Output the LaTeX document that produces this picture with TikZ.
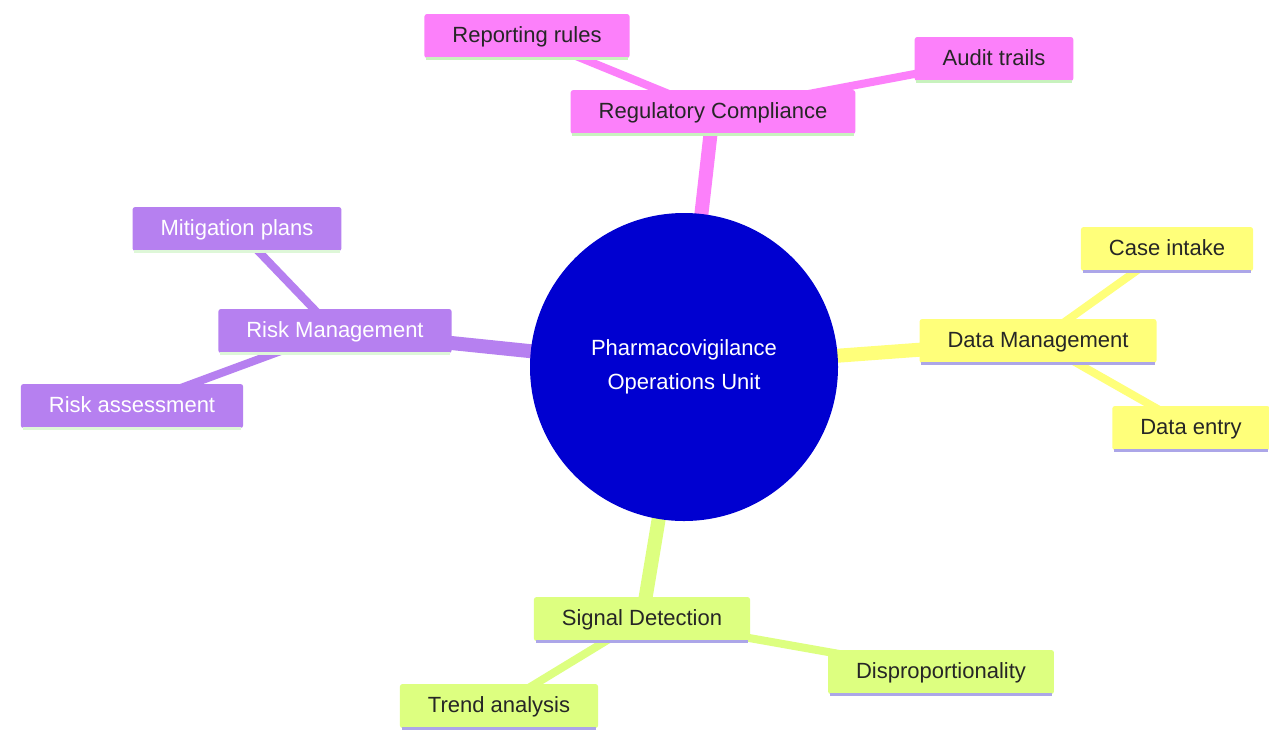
\documentclass[tikz,border=0pt]{standalone}
\usepackage{fontspec}
\setmainfont{Liberation Sans}
\usepackage{tikz}
\usetikzlibrary{backgrounds}

\definecolor{rcpink}{RGB}{252,128,250}
\definecolor{rmpurple}{RGB}{182,128,240}
\definecolor{dmyellow}{RGB}{255,255,122}
\definecolor{sdgreen}{RGB}{221,255,128}
\definecolor{hubblue}{RGB}{0,0,208}
\definecolor{lnpale}{RGB}{200,242,190}
\definecolor{lnlav}{RGB}{172,166,232}

\begin{document}
\begin{tikzpicture}[x=0.75pt,y=-0.75pt,
  box/.style={rounded corners=2pt, minimum height=33pt, inner xsep=21pt, inner ysep=0pt,
    text height=0.9em, text depth=0em,
    font=\fontsize{16.5}{20}\selectfont, text=black!85},
  hub/.style={circle, fill=hubblue, minimum size=231pt, inner sep=0pt, align=center,
    text=white, font=\fontsize{16.5}{25.5}\selectfont},
  trunk/.style={line width=10.5pt},
  twig/.style={line width=6pt},
  uline/.style={line width=2.2pt, shorten <=1.5pt, shorten >=1.5pt}]
\useasboundingbox (0,0) rectangle (1269,729);

% centre
\node[hub] (pvu) at (684,367) {Pharmacovigilance\\Operations Unit};

% regulatory compliance
\node[box, fill=rcpink] (regc) at (713,112) {Regulatory Compliance};
\node[box, fill=rcpink] (rrules) at (527,36) {Reporting rules};
\node[box, fill=rcpink] (audit) at (994,59) {Audit trails};

% risk management
\node[box, fill=rmpurple, text=white] (riskm) at (335,331) {Risk Management};
\node[box, fill=rmpurple, text=white] (mitig) at (237,229) {Mitigation plans};
\node[box, fill=rmpurple, text=white] (riska) at (132,406) {Risk assessment};

% data management
\node[box, fill=dmyellow] (datam) at (1038,341) {Data Management};
\node[box, fill=dmyellow] (casei) at (1167,249) {Case intake};
\node[box, fill=dmyellow] (datae) at (1191,428) {Data entry};

% signal detection
\node[box, fill=sdgreen] (sigd) at (642,619) {Signal Detection};
\node[box, fill=sdgreen] (trend) at (499,706) {Trend analysis};
\node[box, fill=sdgreen] (disp) at (941,672) {Disproportionality};

% underlines
\draw[uline, lnpale] (regc.south west) -- (regc.south east);
\draw[uline, lnpale] (rrules.south west) -- (rrules.south east);
\draw[uline, lnpale] (audit.south west) -- (audit.south east);
\draw[uline, lnpale!60] (riskm.south west) -- (riskm.south east);
\draw[uline, lnpale!60] (mitig.south west) -- (mitig.south east);
\draw[uline, lnpale!60] (riska.south west) -- (riska.south east);
\draw[uline, lnlav] (datam.south west) -- (datam.south east);
\draw[uline, lnlav] (casei.south west) -- (casei.south east);
\draw[uline, lnlav] (datae.south west) -- (datae.south east);
\draw[uline, lnlav] (sigd.south west) -- (sigd.south east);
\draw[uline, lnlav] (trend.south west) -- (trend.south east);
\draw[uline, lnlav] (disp.south west) -- (disp.south east);

\begin{pgfonlayer}{background}
\fill[white] (0,0) rectangle (1269,729);

\draw[trunk, rcpink] (pvu.center) -- (regc.center);
\draw[twig, rcpink] (regc.center) -- (rrules.center);
\draw[twig, rcpink] (regc.center) -- (audit.center);

\draw[trunk, rmpurple] (pvu.center) -- (riskm.center);
\draw[twig, rmpurple] (riskm.center) -- (mitig.center);
\draw[twig, rmpurple] (riskm.center) -- (riska.center);

\draw[trunk, dmyellow] (pvu.center) -- (datam.center);
\draw[twig, dmyellow] (datam.center) -- (casei.center);
\draw[twig, dmyellow] (datam.center) -- (datae.center);

\draw[trunk, sdgreen] (pvu.center) -- (sigd.center);
\draw[twig, sdgreen] (sigd.center) -- (trend.center);
\draw[twig, sdgreen] (sigd.center) -- (disp.center);
\end{pgfonlayer}

\end{tikzpicture}
\end{document}
